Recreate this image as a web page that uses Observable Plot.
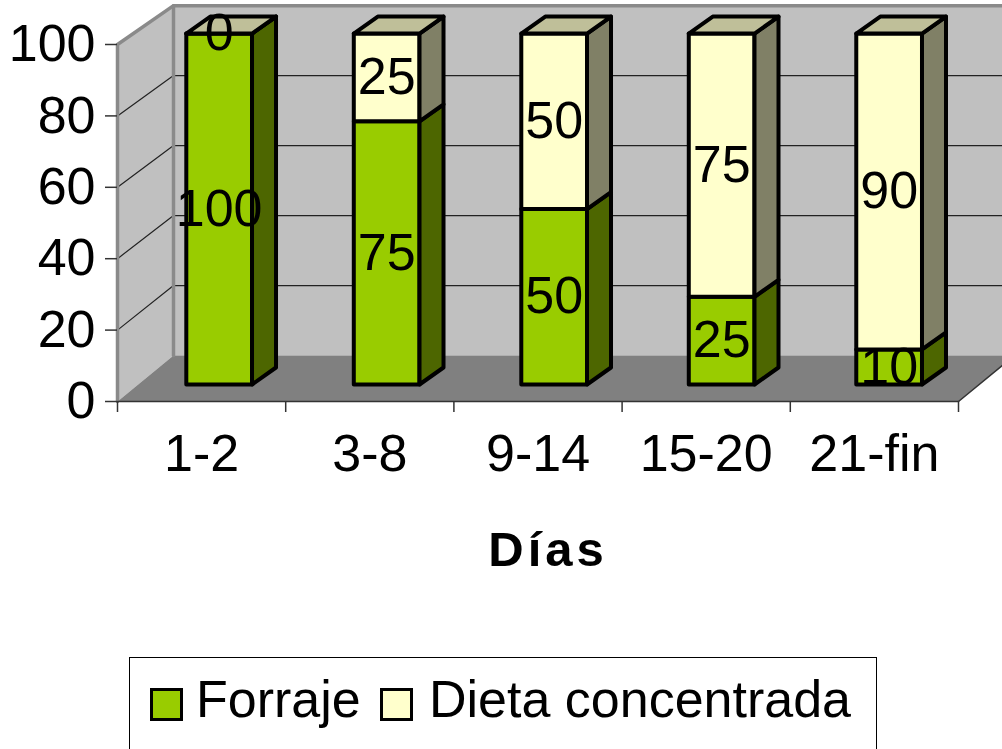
<!DOCTYPE html>
<html>
<head>
<meta charset="utf-8">
<script src="https://cdn.jsdelivr.net/npm/d3@7"></script>
<script src="https://cdn.jsdelivr.net/npm/@observablehq/plot@0.6"></script>
<style>
  html, body { margin: 0; padding: 0; background: #fff; width: 1002px; height: 749px; overflow: hidden; }
  #wrap { position: relative; width: 1002px; height: 749px; font-family: Arial, "Liberation Sans", sans-serif; }
  #chart { position: absolute; left: 0; top: 0; }
  #legend { position: absolute; left: 129px; top: 657px; width: 748px; height: 130px; border: 1.5px solid #000; box-sizing: border-box; background: #fff; }
  .sw { position: absolute; width: 33px; height: 33px; border: 3.5px solid #000; box-sizing: border-box; }
  .lt { position: absolute; font-size: 52px; line-height: 52px; white-space: nowrap; color: #000; }
</style>
</head>
<body>
<div id="wrap">
  <div id="chart"></div>
  <div id="legend"></div>
</div>
<script>
// ---- data ----
const categories = ["1-2", "3-8", "9-14", "15-20", "21-fin"];
const forraje = [100, 75, 50, 25, 10];
const dieta = [0, 25, 50, 75, 90];
const seriesNames = ["Forraje", "Dieta concentrada"];
const yTicks = [0, 20, 40, 60, 80, 100];
const gridValues = [20, 40, 60, 80];
const xTitle = "Días";

// ---- styling / projection constants ----
const colors = {
  Forraje: { front: "#99CC00", side: "#4D6600", top: "#C2D98C" },
  "Dieta concentrada": { front: "#FFFFCC", side: "#808066", top: "#BFBF99" }
};
const PX = 168.2;   // px per category band on front plane
const PY = 3.57;    // px per value unit on front plane
const planes = {
  front:    { dx: 0,  up: 0,  s: 1,     sx: 1 },
  barFront: { dx: 21, up: 17, s: 0.983, sx: 0.9958 },
  barBack:  { dx: 45, up: 34, s: 0.983, sx: 0.9958 },
  back:     { dx: 56, up: 46, s: 0.980, sx: 1 }
};
function proj(xu, v, plane) {
  const p = planes[plane];
  return { x: xu * p.sx + p.dx / PX, y: (p.up + p.s * PY * v) / PY };
}
const barOffset = 48 / PX, barWidth = 66 / PX;

// walls & floor polygons
const walls = [];
function poly(arr, id, pts, fill) {
  pts.forEach(p => arr.push({ id, x: p.x, y: p.y, fill }));
}
poly(walls, "side", [proj(0, 0, "front"), proj(0, 0, "back"), proj(0, 100, "back"), proj(0, 100, "front")], "#C0C0C0");
poly(walls, "backwall", [proj(0, 0, "back"), proj(5, 0, "back"), proj(5, 100, "back"), proj(0, 100, "back")], "#C0C0C0");
poly(walls, "floor", [proj(0, 0, "front"), proj(5, 0, "front"), proj(5, 0, "back"), proj(0, 0, "back")], "#808080");

// gridlines
const grid = [];
gridValues.forEach(v => {
  [proj(0, v, "front"), proj(0, v, "back"), proj(5, v, "back")].forEach(p => grid.push({ id: "g" + v, x: p.x, y: p.y }));
});

// wall edges
const edges = [];
[proj(0, 0, "front"), proj(0, 100, "front"), proj(0, 100, "back"), proj(5, 100, "back")].forEach(p => edges.push({ id: "e1", ...p }));
[proj(0, 0, "back"), proj(0, 100, "back")].forEach(p => edges.push({ id: "e2", ...p }));
const floorEdges = [];
[proj(0, 0, "front"), proj(5, 0, "front")].forEach(p => floorEdges.push({ id: "f1", ...p }));
[proj(5, 0, "front"), proj(5, 0, "back")].forEach(p => floorEdges.push({ id: "f2", ...p }));

// bars
const faces = [];
const labels = [];
categories.forEach((c, i) => {
  const xl = i + barOffset, xr = xl + barWidth;
  const segs = [
    { name: seriesNames[0], v0: 0, v1: forraje[i], val: forraje[i] },
    { name: seriesNames[1], v0: forraje[i], v1: forraje[i] + dieta[i], val: dieta[i] }
  ];
  segs.forEach((s, k) => {
    const col = colors[s.name];
    poly(faces, `b${i}s${k}front`, [proj(xl, s.v0, "barFront"), proj(xr, s.v0, "barFront"), proj(xr, s.v1, "barFront"), proj(xl, s.v1, "barFront")], col.front);
    poly(faces, `b${i}s${k}side`, [proj(xr, s.v0, "barFront"), proj(xr, s.v0, "barBack"), proj(xr, s.v1, "barBack"), proj(xr, s.v1, "barFront")], col.side);
    if (k === segs.length - 1) {
      poly(faces, `b${i}top`, [proj(xl, s.v1, "barFront"), proj(xr, s.v1, "barFront"), proj(xr, s.v1, "barBack"), proj(xl, s.v1, "barBack")], col.top);
    }
    const p = proj((xl + xr) / 2, (s.v0 + s.v1) / 2, "barFront");
    labels.push({ x: p.x, y: p.y, text: String(s.val) });
  });
});

const chart = Plot.plot({
  width: 1002,
  height: 600,
  marginLeft: 117,
  marginRight: 44,
  marginTop: 44,
  marginBottom: 199,
  x: { domain: [0, 5], axis: null },
  y: { domain: [0, 100], axis: null },
  color: { type: "identity" },
  style: { fontFamily: "Arial, 'Liberation Sans', sans-serif", background: "transparent", overflow: "visible" },
  marks: [
    Plot.line(walls, { x: "x", y: "y", z: "id", fill: "fill", stroke: null, curve: "linear-closed" }),
    Plot.line(grid, { x: "x", y: "y", z: "id", stroke: "#222", strokeWidth: 1.2 }),
    Plot.line(edges, { x: "x", y: "y", z: "id", stroke: "#8a8a8a", strokeWidth: 3.5 }),
    Plot.line(floorEdges, { x: "x", y: "y", z: "id", stroke: "#333", strokeWidth: 1.5 }),
    Plot.axisY({ ticks: yTicks, tickSize: 12, tickPadding: 10, fontSize: 52, stroke: "#333", strokeWidth: 1.5, label: null }),
    Plot.axisX({ ticks: [0, 1, 2, 3, 4, 5], tickSize: 11, tickFormat: () => "", stroke: "#333", strokeWidth: 1.5, label: null }),
    Plot.axisX({ ticks: categories.map((c, i) => i + 0.5), tickFormat: d => categories[Math.floor(d)], tickSize: 0, tickPadding: 33, fontSize: 52, label: null }),
    Plot.line(faces, { x: "x", y: "y", z: "id", fill: "fill", stroke: "#000", strokeWidth: 4, strokeLinejoin: "round", curve: "linear-closed" }),
    Plot.text(labels, { x: "x", y: "y", text: "text", fontSize: 52, fill: "#000" }),
    Plot.text([xTitle], { frameAnchor: "bottom", lineAnchor: "middle", dx: 10, dy: 149, fontSize: 49, fontWeight: "bold", fill: "#000" })
  ]
});
document.getElementById("chart").appendChild(chart);
d3.select(chart).selectAll("text").filter(function () { return this.textContent === xTitle; }).attr("letter-spacing", "4px");

// legend
const legend = document.getElementById("legend");
const items = [
  { name: seriesNames[0], sw: 20, tx: 66 },
  { name: seriesNames[1], sw: 250, tx: 299 }
];
items.forEach(it => {
  const s = document.createElement("div");
  s.className = "sw";
  s.style.left = it.sw + "px";
  s.style.top = "30px";
  s.style.background = colors[it.name].front;
  legend.appendChild(s);
  const t = document.createElement("div");
  t.className = "lt";
  t.style.left = it.tx + "px";
  t.style.top = "15px";
  t.textContent = it.name;
  legend.appendChild(t);
});
</script>
</body>
</html>
